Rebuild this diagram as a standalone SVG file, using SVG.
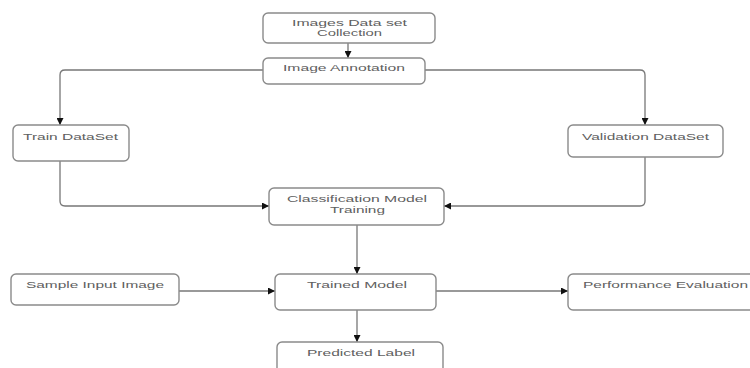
<svg xmlns="http://www.w3.org/2000/svg" width="750" height="368" viewBox="0 0 750 368">
<defs>
<style>
.box{fill:#fff;stroke:#8a8a8a;stroke-width:1.4}
.lbl{font-family:"Liberation Sans",Arial,sans-serif;font-size:9.5px;fill:#606060;text-anchor:start}
.con{fill:none;stroke:#777;stroke-width:1.3}
</style>
<marker id="ah" viewBox="0 0 10 10" refX="10" refY="5" markerWidth="7" markerHeight="7" markerUnits="userSpaceOnUse" orient="auto">
<path d="M0,0 L10,5 L0,10 z" fill="#111"/>
</marker>
</defs>
<rect width="750" height="368" fill="#fff"/>
<g id="connectors">
<path class="con" marker-end="url(#ah)" d="M348,43 V58"/>
<path class="con" marker-end="url(#ah)" d="M263,70 H65 Q60,70 60,75 V125"/>
<path class="con" marker-end="url(#ah)" d="M425,70 H640 Q645,70 645,75 V125"/>
<path class="con" marker-end="url(#ah)" d="M60,161 V201 Q60,206 65,206 H269"/>
<path class="con" marker-end="url(#ah)" d="M645,157 V201 Q645,206 640,206 H444"/>
<path class="con" marker-end="url(#ah)" d="M357,225 V274"/>
<path class="con" marker-end="url(#ah)" d="M179,291 H275"/>
<path class="con" marker-end="url(#ah)" d="M436,291 H568"/>
<path class="con" marker-end="url(#ah)" d="M357,310 V342"/>
</g>
<g id="collection">
<rect class="box" x="263" y="13" width="172" height="30" rx="5"/>
<text class="lbl" x="292" y="26" textLength="115" lengthAdjust="spacingAndGlyphs">Images Data set</text>
<text class="lbl" x="317" y="36" textLength="65" lengthAdjust="spacingAndGlyphs">Collection</text>
</g>
<g id="annotation">
<rect class="box" x="263" y="58" width="162" height="26" rx="5"/>
<text class="lbl" x="283" y="71" textLength="122" lengthAdjust="spacingAndGlyphs">Image Annotation</text>
</g>
<g id="train">
<rect class="box" x="13" y="125" width="116" height="36" rx="5"/>
<text class="lbl" x="23" y="140" textLength="95" lengthAdjust="spacingAndGlyphs">Train DataSet</text>
</g>
<g id="validation">
<rect class="box" x="568" y="125" width="155" height="32" rx="5"/>
<text class="lbl" x="582" y="140" textLength="127" lengthAdjust="spacingAndGlyphs">Validation DataSet</text>
</g>
<g id="classification">
<rect class="box" x="269" y="188" width="175" height="37" rx="5"/>
<text class="lbl" x="287" y="202" textLength="140" lengthAdjust="spacingAndGlyphs">Classification Model</text>
<text class="lbl" x="330" y="213" textLength="55" lengthAdjust="spacingAndGlyphs">Training</text>
</g>
<g id="sample">
<rect class="box" x="11" y="274" width="168" height="31" rx="5"/>
<text class="lbl" x="26" y="288" textLength="138" lengthAdjust="spacingAndGlyphs">Sample Input Image</text>
</g>
<g id="trained">
<rect class="box" x="275" y="274" width="161" height="36" rx="5"/>
<text class="lbl" x="307" y="288" textLength="100" lengthAdjust="spacingAndGlyphs">Trained Model</text>
</g>
<g id="performance">
<rect class="box" x="568" y="274" width="190" height="36" rx="5"/>
<text class="lbl" x="583" y="288" textLength="165" lengthAdjust="spacingAndGlyphs">Performance Evaluation</text>
</g>
<g id="predicted">
<rect class="box" x="277" y="342" width="166" height="36" rx="5"/>
<text class="lbl" x="307" y="356" textLength="108" lengthAdjust="spacingAndGlyphs">Predicted Label</text>
</g>
</svg>
